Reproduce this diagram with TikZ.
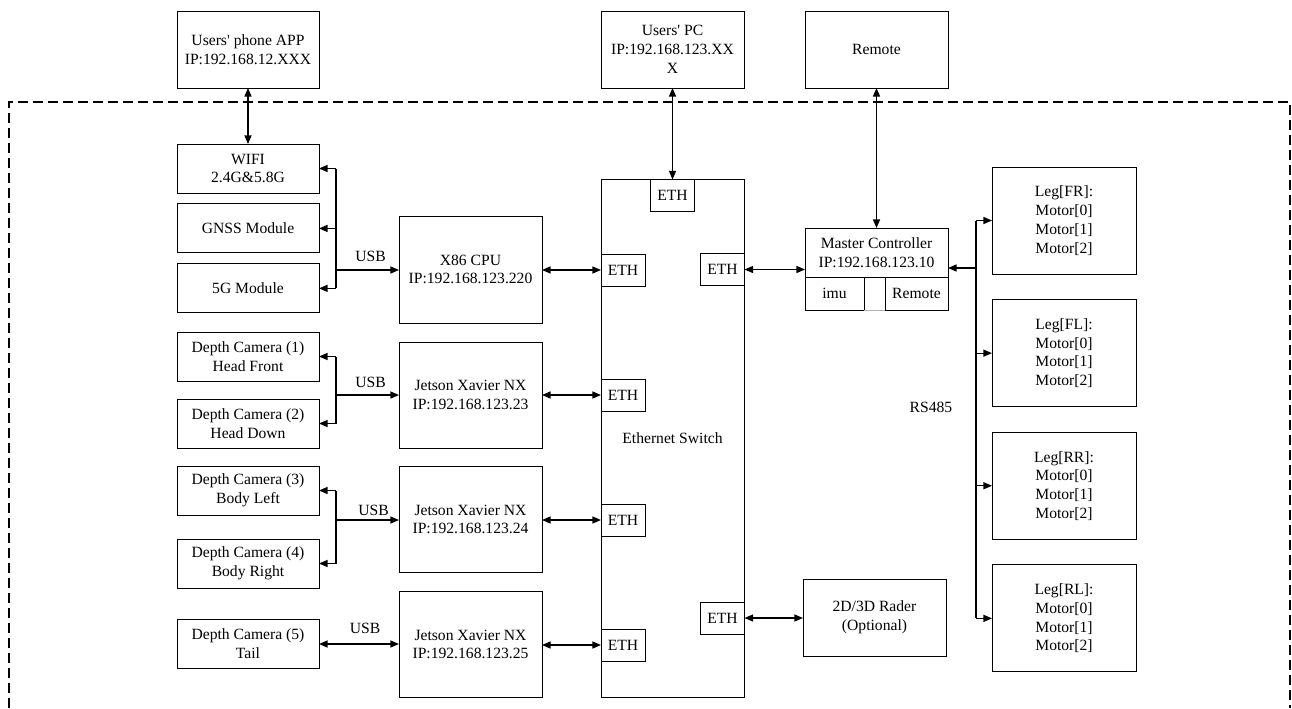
\documentclass[tikz,border=0pt]{standalone}
\usepackage{fontspec}
\setmainfont{Liberation Serif}
\usetikzlibrary{arrows.meta, positioning}
\tikzset{px/.style 2 args={minimum width=#1*0.64pt, minimum height=#2*0.64pt}}

\begin{document}
\begin{tikzpicture}[x=0.64pt, y=-0.64pt, >={Triangle[length=5.5pt,width=4.5pt]},
  unit/.style={draw, line width=0.6pt, align=center, inner sep=1pt, outer sep=0pt},
  port/.style={draw, line width=0.6pt, px={44}{32}, inner sep=0pt, outer sep=0pt},
  link/.style={line width=0.8pt},
  frame/.style={line width=1pt, dash pattern=on 6.4pt off 3.2pt}]
\useasboundingbox (0,0) rectangle (1292,708);
\draw[frame] (9,708) -- (9,102) -- (1290,102) -- (1290,708);

% outside the robot
\node[unit, px={142}{77}] (phone) at (248,49.5) {Users\textquotesingle{} phone APP\\IP:192.168.12.XXX};
\node[unit, px={143}{77}] (pc) at (672.5,49.5) {Users\textquotesingle{} PC\\IP:192.168.123.XX\\X};
\node[unit, px={143}{77}] (remote) at (876.5,49.5) {Remote};

% usb devices
\node[unit, px={142}{49}] (wifi) at (248,168.5) {WIFI\\2.4G\&5.8G};
\node[unit, px={142}{49}, below=7pt of wifi] (gnss) {GNSS Module};
\node[unit, px={142}{49}, below=7pt of gnss] (g5) {5G Module};
\node[unit, px={142}{49}] (cam1) at (248,356.5) {Depth Camera (1)\\Head Front};
\node[unit, px={142}{49}] (cam2) at (248,423.5) {Depth Camera (2)\\Head Down};
\node[unit, px={142}{49}] (cam3) at (248,490.5) {Depth Camera (3)\\Body Left};
\node[unit, px={142}{49}] (cam4) at (248,563.5) {Depth Camera (4)\\Body Right};
\node[unit, px={142}{49}] (cam5) at (248,644) {Depth Camera (5)\\Tail};

% computers
\node[unit, px={143}{107}] (x86) at (470.5,269.5) {X86 CPU\\IP:192.168.123.220};
\node[unit, px={143}{106}] (jet1) at (470.5,395) {Jetson Xavier NX\\IP:192.168.123.23};
\node[unit, px={143}{106}] (jet2) at (470.5,519.5) {Jetson Xavier NX\\IP:192.168.123.24};
\node[unit, px={143}{106}] (jet3) at (470.5,644.5) {Jetson Xavier NX\\IP:192.168.123.25};

% switch and ports
\node[unit, px={143}{518}] (sw) at (672.5,438) {Ethernet Switch};
\node[port] (ethtop) at (672.5,195.5) {ETH};
\node[port] (ethx) at (623,270) {ETH};
\node[port] (etha) at (623,395) {ETH};
\node[port] (ethb) at (623,520) {ETH};
\node[port] (ethc) at (623,645) {ETH};
\node[port] (ethm) at (722.5,269.5) {ETH};
\node[port] (ethr) at (722.5,618) {ETH};

% master controller
\node[unit, px={143}{49}] (mtop) at (876.5,252.5) {Master Controller\\IP:192.168.123.10};
\node[unit, px={59}{33}, anchor=north west] (imu) at (mtop.south west) {imu};
\node[unit, px={63}{33}, anchor=north east] (mrem) at (mtop.south east) {Remote};
\draw[gray!60, line width=0.6pt] (imu.south east) -- (mrem.south west);
\node[unit, px={143}{77}] (radar) at (874.5,617.5) {2D/3D Rader\\(Optional)};

% legs
\node[unit, px={144}{107}] (fr) at (1064,220.5) {Leg[FR]:\\Motor[0]\\Motor[1]\\Motor[2]};
\node[unit, px={144}{107}, below=16.4pt of fr] (fl) {Leg[FL]:\\Motor[0]\\Motor[1]\\Motor[2]};
\node[unit, px={144}{107}, below=16.4pt of fl] (rr) {Leg[RR]:\\Motor[0]\\Motor[1]\\Motor[2]};
\node[unit, px={144}{107}, below=16.4pt of rr] (rl) {Leg[RL]:\\Motor[0]\\Motor[1]\\Motor[2]};

% links
\draw[link, <->] (phone) -- (wifi);
\draw[link, <->] (pc) -- (ethtop);
\draw[link, <->] (remote) -- (mtop);

\coordinate (usbA) at (336,270);
\draw[link] (usbA |- wifi.east) -- (usbA |- g5.east);
\foreach \d in {wifi,gnss,g5} \draw[link, ->] (usbA |- \d.east) -- (\d.east);
\draw[link, ->] (usbA) -- (usbA -| x86.west);
\node (usb1) at (370.5,256) {USB};

\coordinate (usbB) at (336,395);
\draw[link] (usbB |- cam1.east) -- (usbB |- cam2.east);
\foreach \d in {cam1,cam2} \draw[link, ->] (usbB |- \d.east) -- (\d.east);
\draw[link, ->] (usbB) -- (usbB -| jet1.west);
\node (usb2) at (370.5,382) {USB};

\coordinate (usbC) at (336,520);
\draw[link] (usbC |- cam3.east) -- (usbC |- cam4.east);
\foreach \d in {cam3,cam4} \draw[link, ->] (usbC |- \d.east) -- (\d.east);
\draw[link, ->] (usbC) -- (usbC -| jet2.west);
\node (usb3) at (373.5,510) {USB};

\draw[link, <->] (cam5.east) -- (cam5.east -| jet3.west);
\node (usb4) at (365,628) {USB};

\draw[link, <->] (ethx.west -| x86.east) -- (ethx.west);
\draw[link, <->] (etha.west -| jet1.east) -- (etha.west);
\draw[link, <->] (ethb.west -| jet2.east) -- (ethb.west);
\draw[link, <->] (ethc.west -| jet3.east) -- (ethc.west);
\draw[link, <->] (ethm.east) -- (ethm.east -| mtop.west);
\draw[link, <->] (ethr.east) -- (ethr.east -| radar.west);

\coordinate (rs) at (976,268);
\draw[link] (rs |- fr.west) -- (rs |- rl.west);
\draw[link, ->] (rs) -- (rs -| mtop.east);
\foreach \l in {fr,fl,rr,rl} \draw[link, ->] (rs |- \l.west) -- (\l.west);
\node (rs485) at (931,407) {RS485};
\end{tikzpicture}
\end{document}
